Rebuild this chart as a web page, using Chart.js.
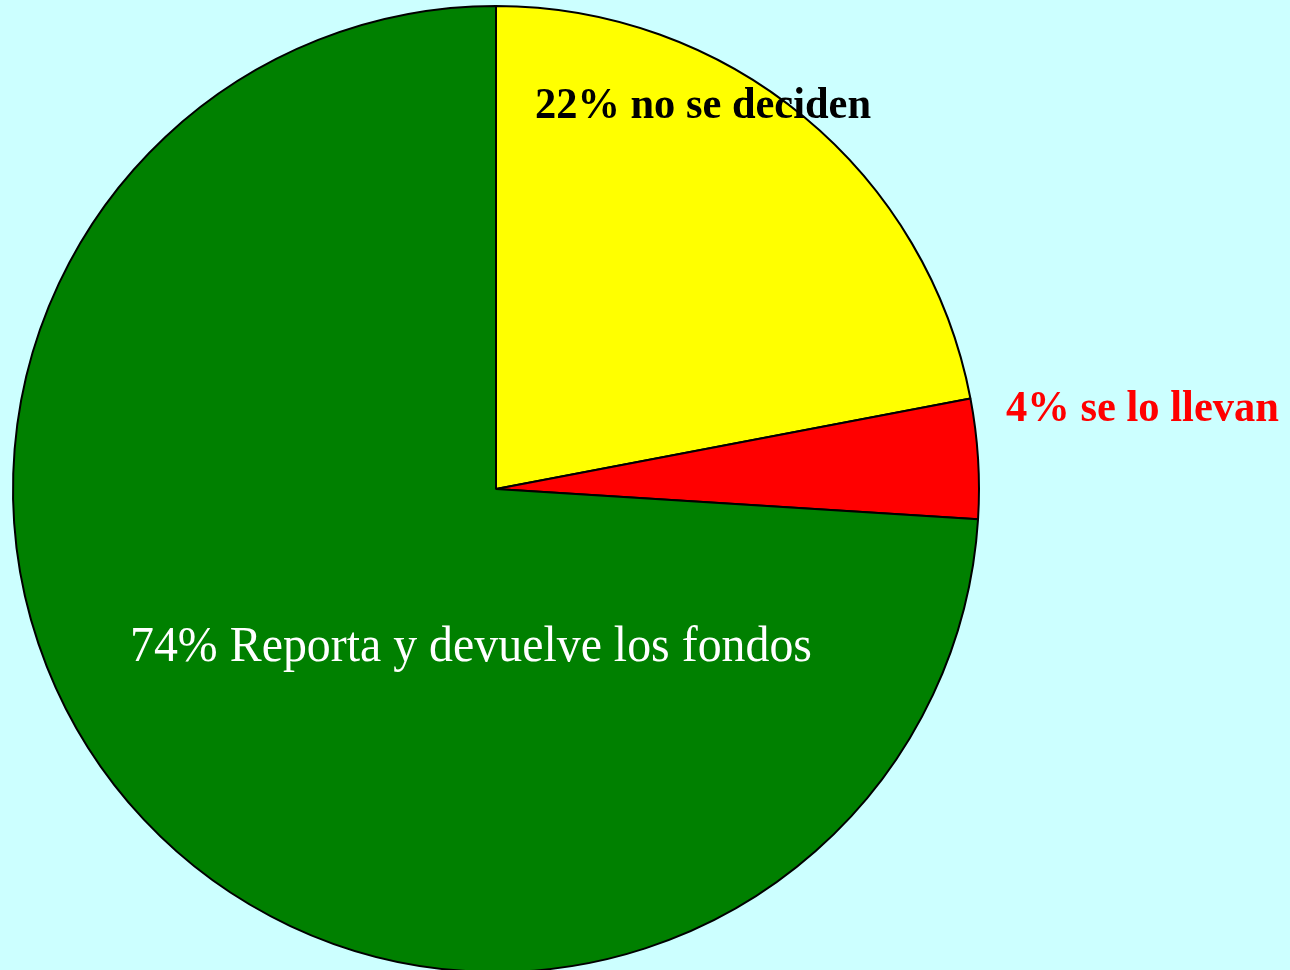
<!DOCTYPE html>
<html>
<head>
<meta charset="utf-8">
<script src="https://cdn.jsdelivr.net/npm/chart.js@4/dist/chart.umd.min.js"></script>
<style>
html,body{margin:0;padding:0;background:#CCFFFF;overflow:hidden;}
#wrap{position:absolute;left:0;top:0;width:1290px;height:980px;}
</style>
</head>
<body>
<div id="wrap"><canvas id="c"></canvas></div>
<script>
const categories = ["no se deciden", "se lo llevan", "Reporta y devuelve los fondos"];
const values = [22, 4, 74];
const colors = ["#FFFF00", "#FF0000", "#008000"];
const labelTexts = ["22% no se deciden", "4% se lo llevan", "74% Reporta y devuelve los fondos"];

const labelPlugin = {
  id: 'labels',
  afterDatasetsDraw(chart) {
    const ctx = chart.ctx;
    const specs = [
      {x: 535, y: 118, size: 44, weight: 'bold', color: '#000000', w: 336},
      {x: 1006, y: 421, size: 44, weight: 'bold', color: '#FF0000', w: 273},
      {x: 130, y: 661, size: 50, weight: 'normal', color: '#FFFFFF', w: 682}
    ];
    specs.forEach((s, i) => {
      ctx.save();
      ctx.font = s.weight + ' ' + s.size + 'px "Liberation Serif", "Times New Roman", serif';
      ctx.fillStyle = s.color;
      ctx.textBaseline = 'alphabetic';
      ctx.textAlign = 'left';
      const m = ctx.measureText(labelTexts[i]).width;
      ctx.translate(s.x, s.y);
      ctx.scale(s.w / m, 1);
      ctx.fillText(labelTexts[i], 0, 0);
      ctx.restore();
    });
  }
};

new Chart(document.getElementById('c'), {
  type: 'pie',
  data: {
    labels: categories,
    datasets: [{
      data: values,
      backgroundColor: colors,
      borderColor: '#000000',
      borderWidth: 2
    }]
  },
  options: {
    responsive: true,
    maintainAspectRatio: false,
    animation: false,
    layout: {padding: {left: 12, right: 310, top: 5, bottom: 7}},
    plugins: {legend: {display: false}, tooltip: {enabled: false}}
  },
  plugins: [labelPlugin]
});
</script>
</body>
</html>
